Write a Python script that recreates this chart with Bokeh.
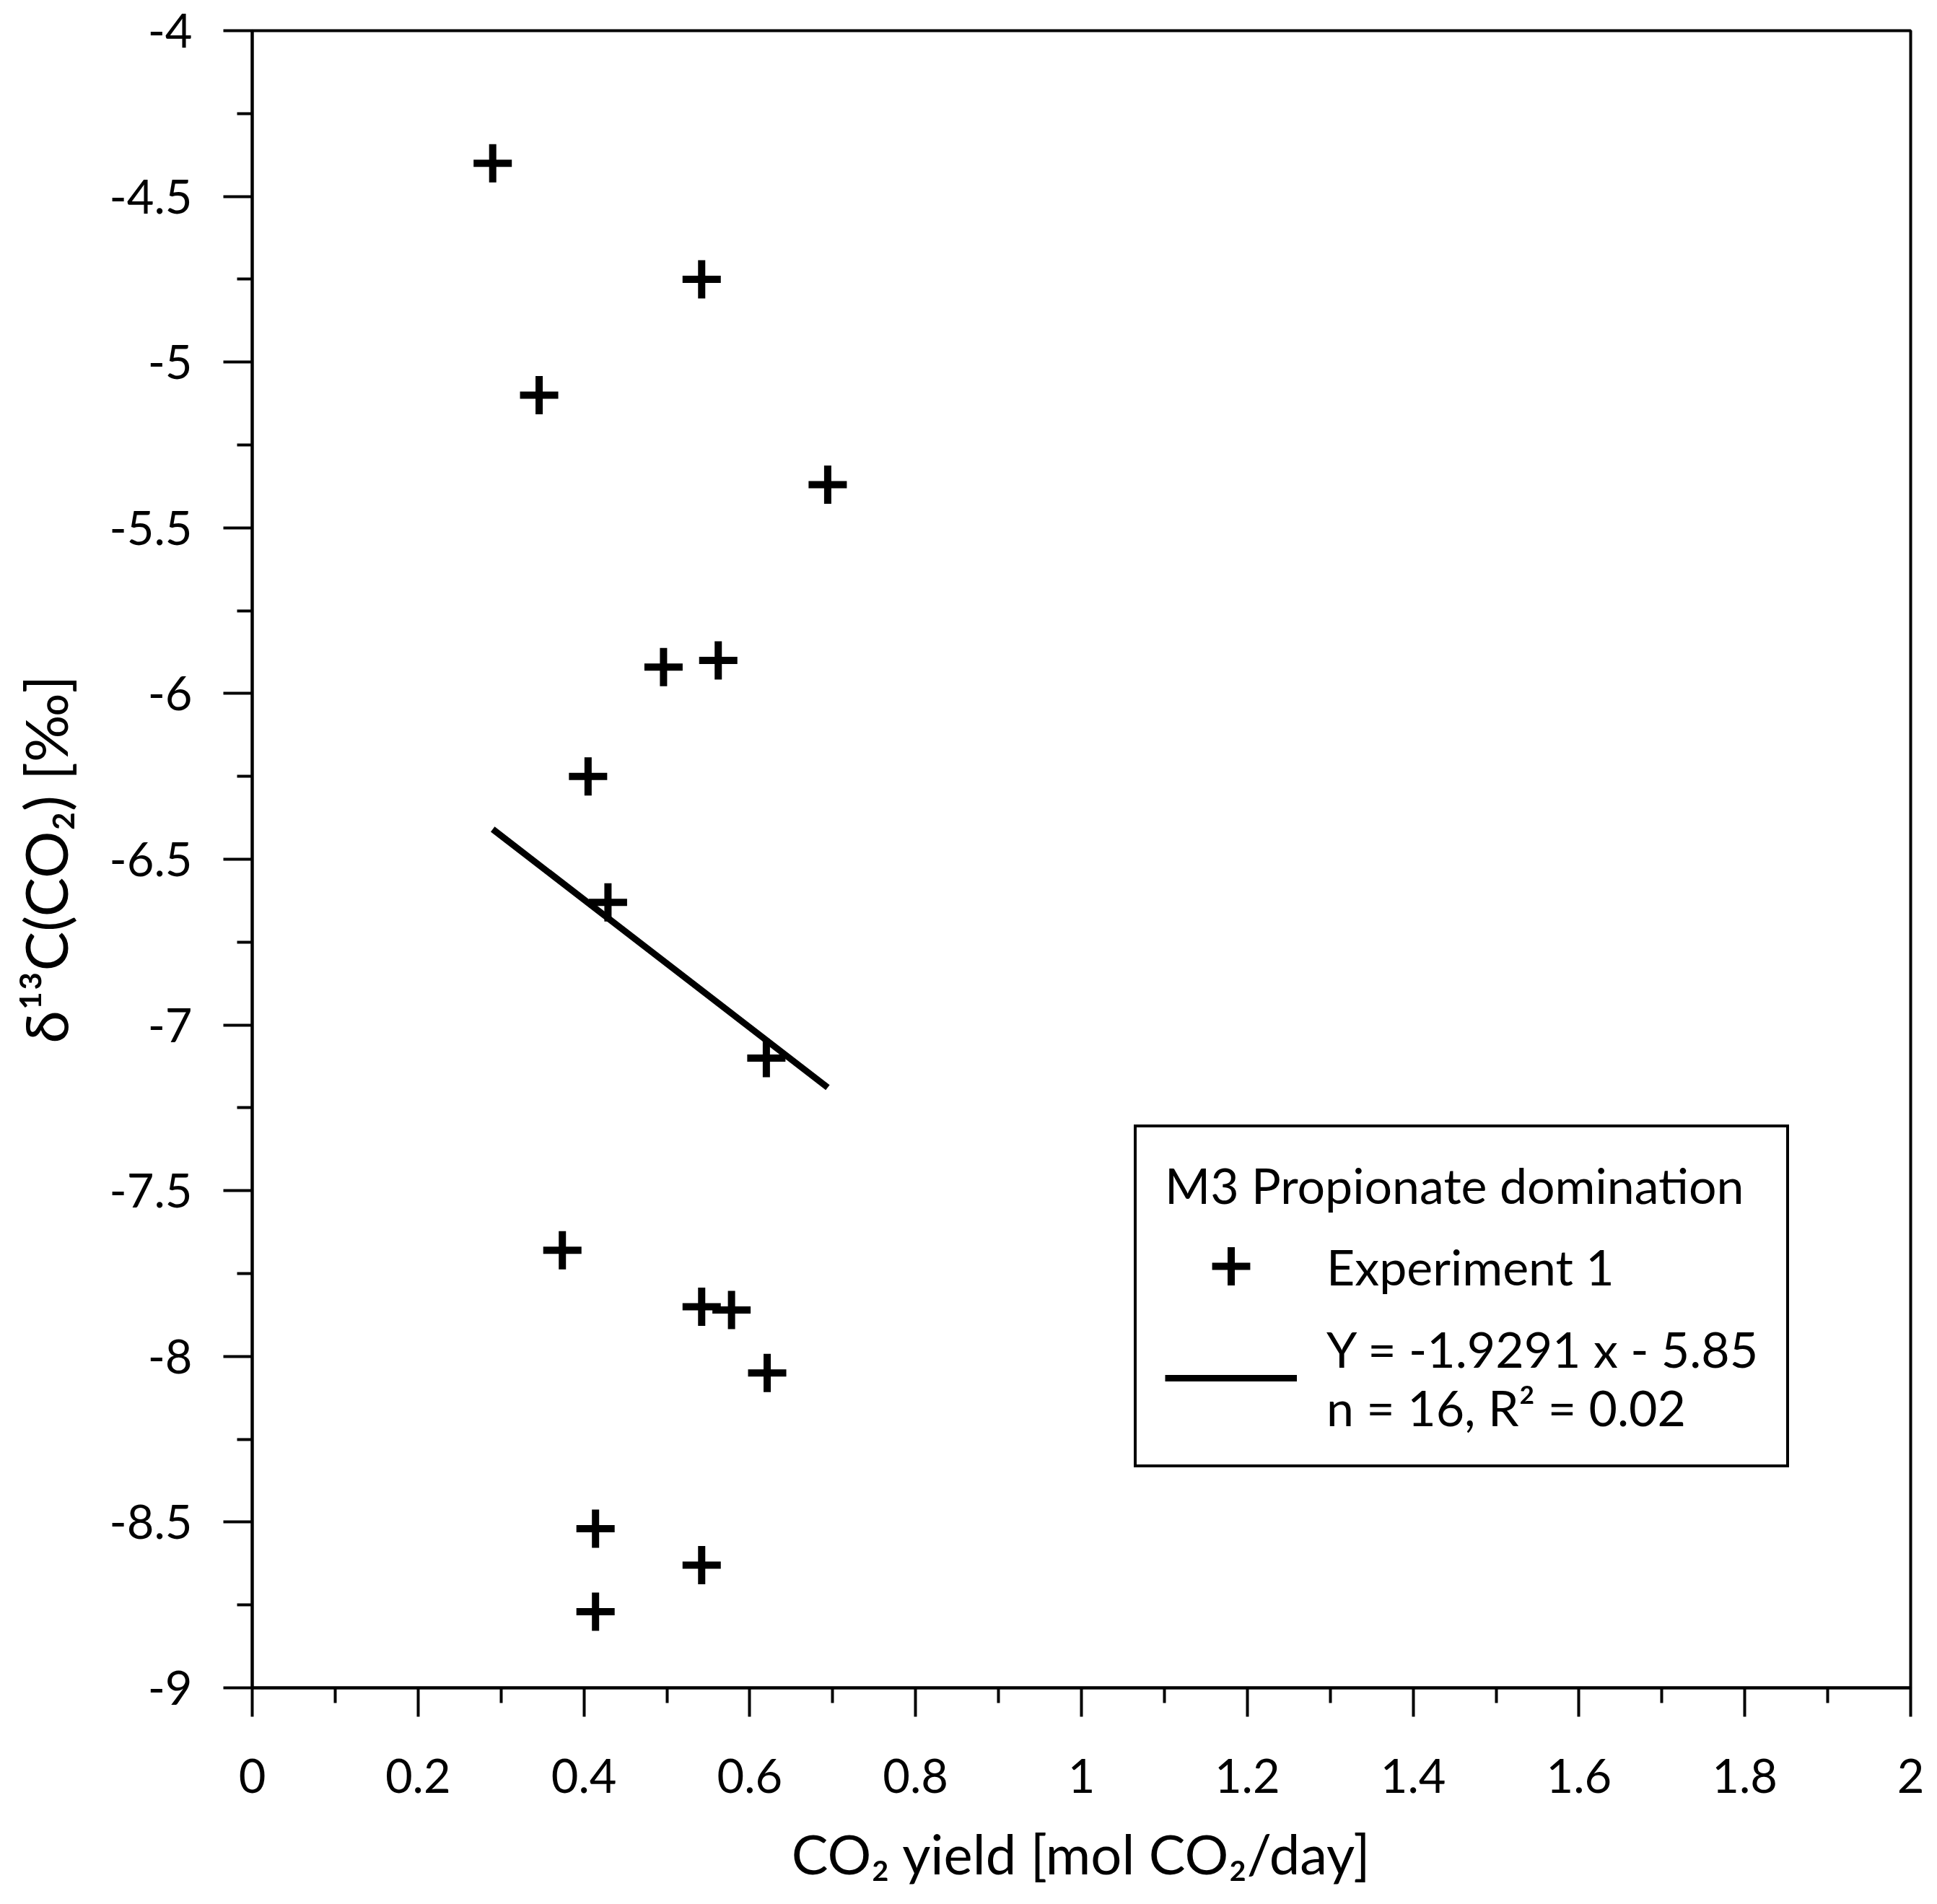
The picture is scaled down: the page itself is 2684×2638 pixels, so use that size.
import numpy as np

from bokeh.plotting import figure
from bokeh.models import Range1d, FixedTicker, NumeralTickFormatter, Legend, LegendItem
from bokeh.embed import file_html
from bokeh.resources import INLINE

# CO2 yield [mol CO2/day] and d13C(CO2) [permil], experiment 1
co2_yield = [0.290, 0.542, 0.346, 0.694, 0.496, 0.562, 0.405, 0.429,
             0.620, 0.374, 0.542, 0.578, 0.621, 0.414, 0.542, 0.414]
d13c = [-4.40, -4.75, -5.10, -5.37, -5.92, -5.90, -6.25, -6.63,
        -7.10, -7.68, -7.85, -7.86, -8.05, -8.52, -8.63, -8.77]

# linear fit reported in the legend
slope = -1.9291
intercept = -5.85

x_ticks = [0, 0.2, 0.4, 0.6, 0.8, 1.0, 1.2, 1.4, 1.6, 1.8, 2.0]
x_minor = [0.1, 0.3, 0.5, 0.7, 0.9, 1.1, 1.3, 1.5, 1.7, 1.9]
y_ticks = [-9, -8.5, -8, -7.5, -7, -6.5, -6, -5.5, -5, -4.5, -4]
y_minor = [-8.75, -8.25, -7.75, -7.25, -6.75, -6.25, -5.75, -5.25, -4.75, -4.25]

FONT = "Lato"

p = figure(width=2668, height=2622,
           x_range=Range1d(0, 2), y_range=Range1d(-9, -4),
           output_backend="svg", toolbar_location=None,
           min_border_left=349, min_border_right=21,
           min_border_top=42, min_border_bottom=284)

p.grid.visible = False
p.outline_line_color = "black"
p.outline_line_width = 4
p.outline_line_alpha = 1.0
p.background_fill_color = "white"
p.border_fill_color = "white"

# 数据点
r_pts = p.scatter(co2_yield, d13c, marker="cross", size=53,
                  line_width=10, line_color="black")

# 回归线
fit_x = np.array([min(co2_yield), max(co2_yield)])
fit_y = slope * fit_x + intercept
r_fit = p.line(fit_x, fit_y, line_width=9, line_color="black")

for ax, ticks, minor in ((p.xaxis[0], x_ticks, x_minor), (p.yaxis[0], y_ticks, y_minor)):
    ax.ticker = FixedTicker(ticks=ticks, minor_ticks=minor)
    ax.formatter = NumeralTickFormatter(format="0.[0]")
    ax.axis_line_width = 4
    ax.axis_line_color = "black"
    ax.major_tick_in = 0
    ax.major_tick_out = 40
    ax.minor_tick_in = 0
    ax.minor_tick_out = 21
    ax.major_tick_line_width = 4
    ax.minor_tick_line_width = 4
    ax.major_tick_line_color = "black"
    ax.minor_tick_line_color = "black"
    ax.major_label_text_font = FONT
    ax.major_label_text_font_size = "65px"
    ax.major_label_text_color = "black"
    ax.axis_label_text_font = FONT
    ax.axis_label_text_font_style = "normal"
    ax.axis_label_text_color = "black"

p.xaxis.axis_label = "CO₂ yield [mol CO₂/day]"
p.xaxis.axis_label_text_font_size = "76px"
p.xaxis.major_label_standoff = 58
p.xaxis.axis_label_standoff = 35
p.yaxis.axis_label = "δ¹³C(CO₂) [‰]"
p.yaxis.axis_label_text_font_size = "82px"
p.yaxis.major_label_standoff = 43
p.yaxis.axis_label_standoff = 38

legend = Legend(
    items=[LegendItem(label="Experiment 1", renderers=[r_pts]),
           LegendItem(label="Y = -1.9291 x - 5.85\nn = 16, R² = 0.02", renderers=[r_fit])],
    title="M3 Propionate domination",
    location=(1222, 305),
    title_text_font=FONT, title_text_font_size="68px", title_text_font_style="normal",
    title_text_color="black",
    label_text_font=FONT, label_text_font_size="68px", label_text_line_height=1.8,
    label_text_color="black",
    glyph_width=183, glyph_height=132, label_standoff=41,
    spacing=8, padding=39, margin=0, title_standoff=6,
    border_line_color="black", border_line_width=4, border_line_alpha=1.0,
    background_fill_color="white", background_fill_alpha=1.0,
)
p.add_layout(legend)

open("out.html", "w").write(file_html(p, INLINE))
